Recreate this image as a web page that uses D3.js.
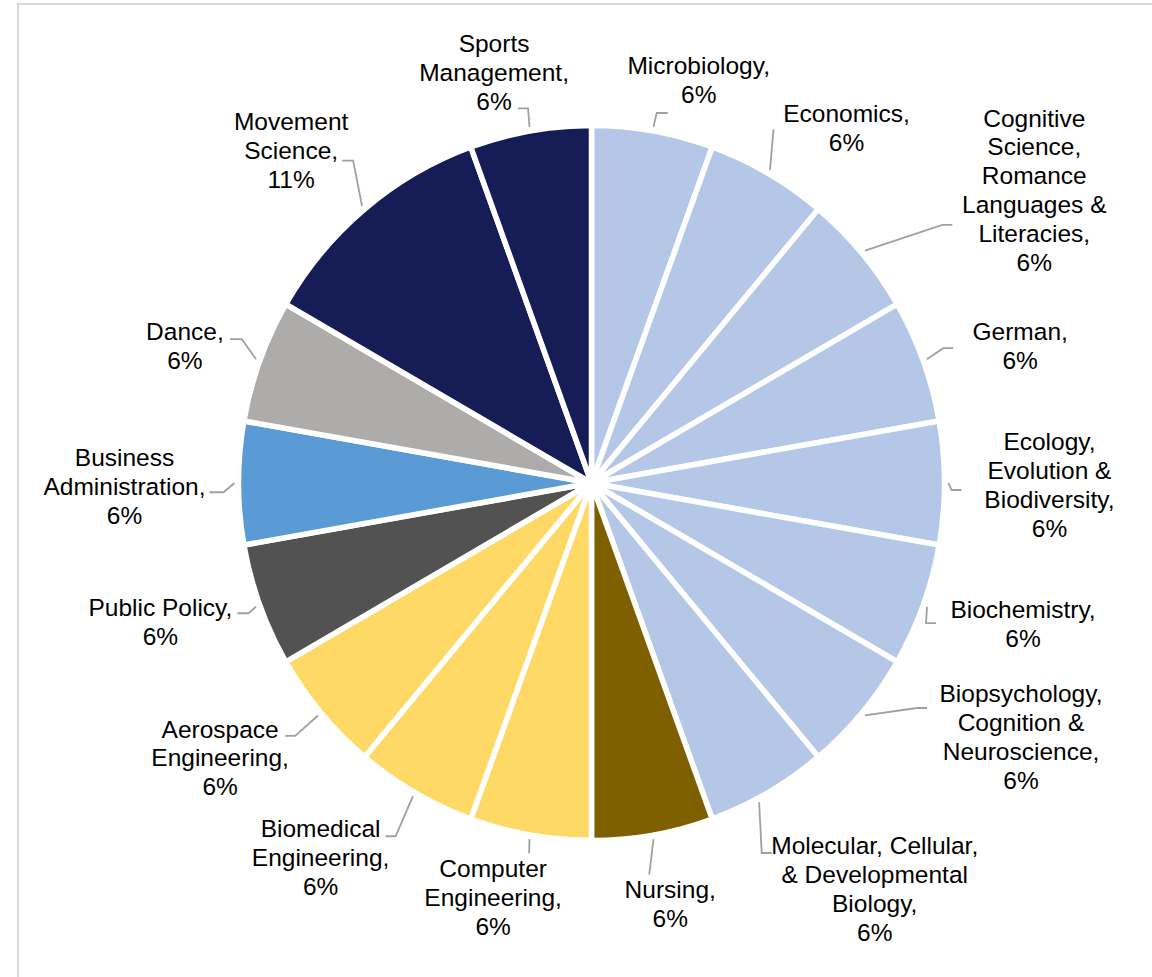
<!DOCTYPE html>
<html>
<head>
<meta charset="utf-8">
<script src="https://cdn.jsdelivr.net/npm/d3@7"></script>
<style>
body { margin: 0; background: #fff; }
svg { display: block; font-family: "Liberation Sans", Arial, sans-serif; }
</style>
</head>
<body>
<svg id="chart" width="1152" height="977"></svg>
<script>
'use strict';

// slices, clockwise from 12 o'clock
var categories = [
    "Microbiology", "Economics", "Cognitive Science, Romance Languages & Literacies",
    "German", "Ecology, Evolution & Biodiversity", "Biochemistry",
    "Biopsychology, Cognition & Neuroscience", "Molecular, Cellular, & Developmental Biology",
    "Nursing", "Computer Engineering", "Biomedical Engineering", "Aerospace Engineering",
    "Public Policy", "Business Administration", "Dance", "Movement Science", "Sports Management"
];
var counts = [1, 1, 1, 1, 1, 1, 1, 1, 1, 1, 1, 1, 1, 1, 1, 2, 1];

// how each category name is broken over lines in its label
var labelLines = [
    ["Microbiology,"],
    ["Economics,"],
    ["Cognitive", "Science,", "Romance", "Languages &", "Literacies,"],
    ["German,"],
    ["Ecology,", "Evolution &", "Biodiversity,"],
    ["Biochemistry,"],
    ["Biopsychology,", "Cognition &", "Neuroscience,"],
    ["Molecular, Cellular,", "& Developmental", "Biology,"],
    ["Nursing,"],
    ["Computer", "Engineering,"],
    ["Biomedical", "Engineering,"],
    ["Aerospace", "Engineering,"],
    ["Public Policy,"],
    ["Business", "Administration,"],
    ["Dance,"],
    ["Movement", "Science,"],
    ["Sports", "Management,"]
];

var sliceColors = [
    "#b4c7e7", "#b4c7e7", "#b4c7e7", "#b4c7e7", "#b4c7e7", "#b4c7e7", "#b4c7e7", "#b4c7e7",
    "#7f6000", "#ffd966", "#ffd966", "#ffd966",
    "#525252", "#5b9bd5", "#aeabab", "#161c56", "#161c56"
];

// label placement: degrees added to the slice mid angle, distance from centre
var labelShift = [4.9, 5.7, 6.5, 2.3, 0.25, -1.9, -9.4, -4.9, -0.6, 3.35, 5.9, 3.5, 2.1, -0.4, -1.4, -2.1, -3.35];
var labelDist = [417, 437, 531, 450, 458, 454, 499, 495, 428, 426, 462, 462, 453, 467, 429, 448, 422];
// leader start, degrees added to the slice mid angle
var leaderShift = [0, 0, 0, 0, 0, 0, 0, 2, 0, 0, 0, 0, 0, 0, 0, 0, 0];
// leader end relative to label centre: [dx, dy, elbow]
var leaderEnds = [
    [-31, 33, -11], [-73, 1, 0], [-82, 35, -10], [-67, 2, -10], [-88, 5, -10],
    [-87, -1, -10], [-94, -29, -10], [-103, -36, -10], [-21, -29, 0], [36, -44, 0],
    [65, -21, 10], [65, -22, 10], [77, -9, 11], [85, 6, 14], [45, -7, 12],
    [51, 10, 11], [24, 36, 10]
];

var width = 1152, height = 977;
var cx = 591.5, cy = 483;
var radius = 353;
var squash = 1.013;
var fontSize = 24.5, lineHeight = 28.8;

var svg = d3.select("#chart");

// frame of the chart area
svg.append("rect")
    .attr("x", 18).attr("y", 4)
    .attr("width", 1300).attr("height", 1100)
    .attr("fill", "none")
    .attr("stroke", "#d9d9d9")
    .attr("stroke-width", 2);

var total = d3.sum(counts);
var fmt = d3.format(".0%");

var pie = d3.pie().sort(null).value(function(d) { return d; });
var arcs = pie(counts);

var arc = d3.arc().innerRadius(0).outerRadius(radius);

var pieG = svg.append("g")
    .attr("transform", "translate(" + cx + "," + cy + ") scale(1," + squash + ")");

pieG.selectAll("path")
    .data(arcs)
    .enter().append("path")
    .attr("d", arc)
    .attr("fill", function(d, i) { return sliceColors[i]; })
    .attr("stroke", "#fff")
    .attr("stroke-width", 5.5);

function polar(angle, r, sy) {
    return [cx + Math.sin(angle) * r, cy - Math.cos(angle) * r * sy];
}

var rad = Math.PI / 180;

var labels = arcs.map(function(d, i) {
    var mid = (d.startAngle + d.endAngle) / 2;
    var pos = polar(mid + labelShift[i] * rad, labelDist[i], 1);
    var lines = labelLines[i].concat([fmt(d.value / total)]);
    return { mid: mid, start: mid + leaderShift[i] * rad, x: pos[0], y: pos[1], lines: lines, end: leaderEnds[i] };
});

// leader lines
var line = d3.line();
svg.append("g").selectAll("path")
    .data(labels)
    .enter().append("path")
    .attr("d", function(d) {
        var s = polar(d.start, radius + 4, squash);
        var a = [d.x + d.end[0], d.y + d.end[1]];
        var pts = [s];
        if (d.end[2] !== 0) pts.push([a[0] + d.end[2], a[1]]);
        pts.push(a);
        return line(pts);
    })
    .attr("fill", "none")
    .attr("stroke", "#a0a0a0")
    .attr("stroke-width", 1.8);

// label text
var texts = svg.append("g").selectAll("text")
    .data(labels)
    .enter().append("text")
    .attr("text-anchor", "middle")
    .attr("font-size", fontSize)
    .attr("fill", "#000");

texts.each(function(d) {
    var n = d.lines.length;
    d3.select(this).selectAll("tspan")
        .data(d.lines)
        .enter().append("tspan")
        .attr("x", d.x)
        .attr("y", function(t, k) { return d.y + (k - (n - 1) / 2) * lineHeight + 8.6; })
        .text(function(t) { return t; });
});
</script>
</body>
</html>
